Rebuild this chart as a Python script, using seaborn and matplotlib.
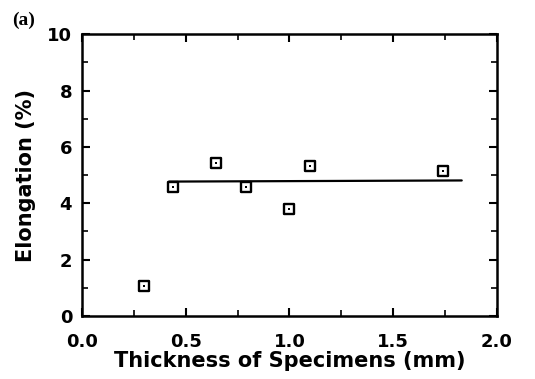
import matplotlib
matplotlib.use("Agg")
import matplotlib.pyplot as plt
import seaborn as sns
import pandas as pd
import numpy as np
from matplotlib.ticker import MultipleLocator

thickness = [0.30, 0.44, 0.645, 0.79, 1.00, 1.10, 1.74]
elongation = [1.05, 4.57, 5.44, 4.57, 3.80, 5.32, 5.13]
fit_x = [0.42, 1.83]
fit_y = [4.77, 4.81]

sns.set_theme(style="ticks")
plt.rcParams['font.family'] = ['DejaVu Sans']
plt.rcParams['font.weight'] = 'bold'
plt.rcParams['text.color'] = 'black'
plt.rcParams['axes.labelcolor'] = 'black'
plt.rcParams['xtick.color'] = 'black'
plt.rcParams['ytick.color'] = 'black'

fig = plt.figure(figsize=(5.35, 3.79), dpi=100)
ax = fig.add_axes([0.153, 0.166, 0.776, 0.744])

df = pd.DataFrame({"x": thickness, "y": elongation})
sns.lineplot(x=fit_x, y=fit_y, ax=ax, color="black", linewidth=1.6)
sns.scatterplot(data=df, x="x", y="y", ax=ax, marker="s", s=45,
                facecolor="white", edgecolor="black", linewidth=1.7, zorder=3)
sns.scatterplot(data=df, x="x", y="y", ax=ax, marker="s", s=3,
                color="black", linewidth=0, zorder=4)

ax.set_xlim(0, 2.0)
ax.set_ylim(0, 10)
ax.xaxis.set_major_locator(MultipleLocator(0.5))
ax.xaxis.set_minor_locator(MultipleLocator(0.25))
ax.yaxis.set_major_locator(MultipleLocator(2))
ax.yaxis.set_minor_locator(MultipleLocator(1))
ax.xaxis.set_major_formatter(matplotlib.ticker.FormatStrFormatter('%.1f'))
ax.tick_params(which='both', direction='in', top=True, right=True, color='black')
ax.tick_params(which='major', length=6, width=1.5, labelsize=13)
ax.tick_params(axis='x', which='major', pad=12)
ax.tick_params(axis='y', which='major', pad=7)
ax.tick_params(which='minor', length=4, width=1.2)
for lab in ax.get_xticklabels() + ax.get_yticklabels():
    lab.set_fontweight('bold')
for sp in ax.spines.values():
    sp.set_linewidth(1.8)
    sp.set_color('black')

ax.set_xlabel("Thickness of Specimens (mm)", fontsize=15, fontweight='bold', labelpad=0)
ax.set_ylabel("Elongation (%)", fontsize=15, fontweight='bold', labelpad=8)
fig.text(0.022, 0.935, "(a)", fontsize=14, fontweight='bold', family='Liberation Serif')

fig.savefig("out.png", dpi=100)
